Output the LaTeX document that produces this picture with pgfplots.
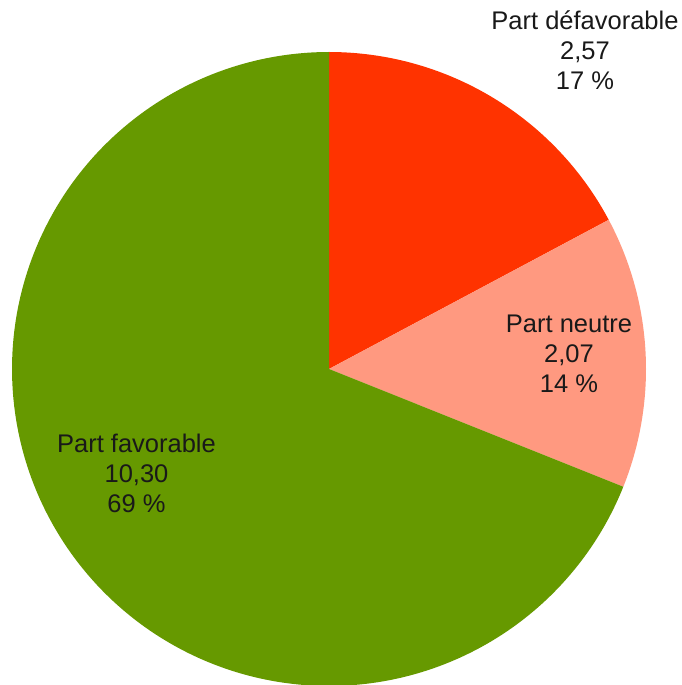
\documentclass[border=0pt]{standalone}
\usepackage{pgfplots}
\pgfplotsset{compat=1.18}
\usepackage{fontspec}
\setmainfont{Liberation Sans}
\definecolor{cdef}{HTML}{FF3300}
\definecolor{cneu}{HTML}{FF9980}
\definecolor{cfav}{HTML}{669900}
\begin{document}%
\begin{tikzpicture}
% values of the three parts
\pgfmathsetmacro{\va}{2.57}% Part defavorable
\pgfmathsetmacro{\vb}{2.07}% Part neutre
\pgfmathsetmacro{\vc}{10.30}% Part favorable
\pgfmathsetmacro{\tot}{\va+\vb+\vc}
\pgfmathsetmacro{\aA}{90}
\pgfmathsetmacro{\aB}{90-360*\va/\tot}
\pgfmathsetmacro{\aC}{\aB-360*\vb/\tot}
\pgfmathsetmacro{\aD}{\aC-360*\vc/\tot}
\begin{axis}[width=681pt,height=685pt,scale only axis,hide axis,
  xmin=0,xmax=681,ymin=0,ymax=685,clip=true]
\addplot[fill=cdef,draw=none,domain=\aB:\aA,samples=120,variable=\t]
  ({329+317*cos(\t)},{316+317*sin(\t)}) -- (329,316) -- cycle;
\addplot[fill=cneu,draw=none,domain=\aC:\aB,samples=120,variable=\t]
  ({329+317*cos(\t)},{316+317*sin(\t)}) -- (329,316) -- cycle;
\addplot[fill=cfav,draw=none,domain=\aD:\aC,samples=240,variable=\t]
  ({329+317*cos(\t)},{316+317*sin(\t)}) -- (329,316) -- cycle;
\begin{scope}[every node/.style={anchor=base,inner sep=0pt,font=\fontsize{25.5}{29}\selectfont,text=black!90}]
\node at (axis cs:585,655) {Part défavorable};
\node at (axis cs:585,625) {2,57};
\node at (axis cs:585,595) {17 \%};
\node at (axis cs:569,352) {Part neutre};
\node at (axis cs:569,322) {2,07};
\node at (axis cs:569,292) {14 \%};
\node at (axis cs:136.5,232) {Part favorable};
\node at (axis cs:136.5,202) {10,30};
\node at (axis cs:136.5,172) {69 \%};
\end{scope}
\coordinate (bbsw) at (rel axis cs:0,0);
\coordinate (bbne) at (rel axis cs:1,1);
\end{axis}
\pgfresetboundingbox
\path (bbsw) rectangle (bbne);
\end{tikzpicture}%
\end{document}
